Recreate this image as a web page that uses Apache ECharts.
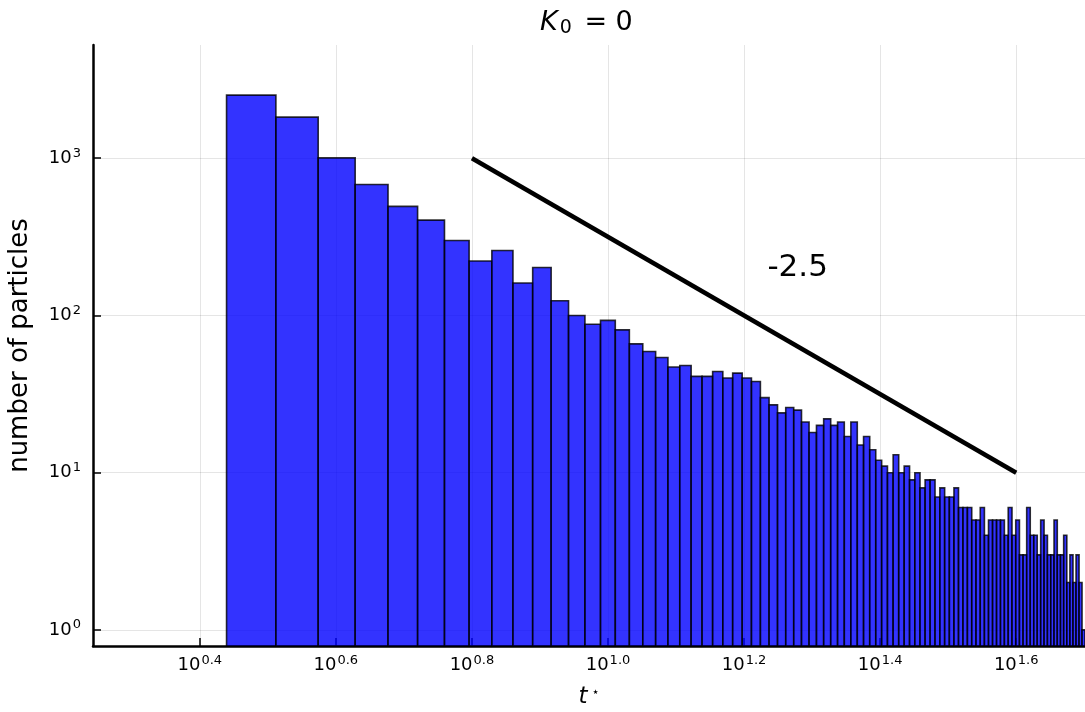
<!DOCTYPE html>
<html><head><meta charset="utf-8">
<script src="https://cdn.jsdelivr.net/npm/echarts@6/dist/echarts.min.js"></script>
<style>html,body{margin:0;padding:0;background:#fff}#c{width:1085px;height:712px}</style>
</head><body><div id="c"></div>
<script>
// ---- data ----
const binStart = 2.75;
const binWidth = 0.5;
const counts = [
  2520,1825,1005,680,494,404,300,222,259,161,
  202,124,100,88,93,81,66,59,54,47,
  48,41,41,44,40,43,40,38,30,27,
  24,26,25,21,18,20,22,20,21,17,
  21,15,17,14,12,11,10,13,10,11,
  9,10,8,9,9,7,8,7,7,8,
  6,6,6,5,5,6,4,5,5,5,
  5,4,6,4,5,3,3,6,4,4,
  3,5,4,3,3,5,3,3,4,2,
  3,2,3,2,1
];
const slopeX = [6.3096, 39.811];
const slopeY = [1000, 10];
const slopeText = '-2.5';
const slopeTextAt = [19, 200];
const titleParts = ['K', '0', ' = 0'];
const xName = ['t', '\u22c6'];
const yName = 'number of particles';

const xMin = 1.75, xMax = 50.25, yMin = 0.79, yMax = 5250;
const FONT = 'DejaVu Sans';

const bins = counts.map((c, i) => [binStart + i * binWidth, binStart + (i + 1) * binWidth, c]);

const chart = echarts.init(document.getElementById('c'), null, {renderer: 'canvas'});
const supRich = {
  b: {fontSize: 18, fontFamily: FONT, color: '#000'},
  s: {fontSize: 13, fontFamily: FONT, color: '#000', padding: [0, 0, 10, 1]}
};
chart.setOption({
  animation: false,
  backgroundColor: '#fff',
  title: {
    text: '{k|' + titleParts[0] + '}{s|' + titleParts[1] + '}{r|' + titleParts[2] + '}',
    left: 535, top: 2, textAlign: 'left',
    textStyle: {
      fontWeight: 'normal',
      rich: {
        k: {fontSize: 27, fontStyle: 'italic', fontWeight: 'normal', fontFamily: FONT, color: '#000'},
        s: {fontSize: 19, fontWeight: 'normal', fontFamily: FONT, color: '#000', padding: [12, 4, 0, 2]},
        r: {fontSize: 27, fontWeight: 'normal', fontFamily: FONT, color: '#000'}
      }
    }
  },
  grid: {left: 93, right: 0, top: 45, bottom: 66, containLabel: false, outerBoundsMode: 'none'},
  xAxis: {
    type: 'log', logBase: Math.pow(10, 0.2), min: xMin, max: xMax,
    name: '{t|' + xName[0] + '}{s|' + xName[1] + '}',
    nameLocation: 'middle', nameGap: 40,
    nameTextStyle: {rich: {
      t: {fontSize: 23, fontStyle: 'italic', fontFamily: FONT, color: '#000'},
      s: {fontSize: 13, fontFamily: FONT, color: '#000', padding: [0, 0, 10, 4]}
    }},
    axisLine: {onZero: false, lineStyle: {color: '#000', width: 2.5}},
    axisTick: {inside: true, length: 8, lineStyle: {color: '#000', width: 1.5}},
    axisLabel: {
      showMinLabel: false, showMaxLabel: false, margin: 8,
      formatter: v => '{b|10}{s|' + Math.log10(v).toFixed(1) + '}',
      rich: supRich
    },
    splitLine: {show: true, showMinLine: false, showMaxLine: false, lineStyle: {color: 'rgba(0,0,0,0.1)', width: 1}},
    minorTick: {show: false}, minorSplitLine: {show: false}
  },
  yAxis: {
    type: 'log', logBase: 10, min: yMin, max: yMax,
    name: yName, nameLocation: 'middle', nameGap: 60,
    nameTextStyle: {fontSize: 26, fontFamily: FONT, color: '#000'},
    axisLine: {onZero: false, lineStyle: {color: '#000', width: 2.5}},
    axisTick: {inside: true, length: 8, lineStyle: {color: '#000', width: 1.5}},
    axisLabel: {
      showMinLabel: false, showMaxLabel: false, margin: 12,
      formatter: v => '{b|10}{s|' + Math.round(Math.log10(v)) + '}',
      rich: supRich
    },
    splitLine: {show: true, showMinLine: false, showMaxLine: false, lineStyle: {color: 'rgba(0,0,0,0.1)', width: 1}},
    minorTick: {show: false}, minorSplitLine: {show: false}
  },
  series: [
    {
      type: 'custom',
      clip: true,
      data: bins,
      encode: {x: [0, 1], y: 2},
      renderItem: function (params, api) {
        const p0 = api.coord([api.value(0), api.value(2)]);
        const p1 = api.coord([api.value(1), yMin]);
        return {
          type: 'rect',
          shape: {x: p0[0], y: p0[1], width: p1[0] - p0[0], height: p1[1] - p0[1]},
          style: {fill: 'rgba(0,0,255,0.8)', stroke: 'rgba(0,0,0,0.8)', lineWidth: 1.6}
        };
      },
      z: 2
    },
    {
      type: 'line',
      data: slopeX.map((x, i) => [x, slopeY[i]]),
      symbol: 'none',
      lineStyle: {color: '#000', width: 4.5},
      z: 5
    },
    {
      type: 'scatter',
      data: [slopeTextAt],
      symbolSize: 0,
      itemStyle: {color: '#000', opacity: 1},
      label: {show: true, position: 'inside', formatter: slopeText, fontSize: 31, fontFamily: FONT,
              color: '#000', opacity: 1, textBorderWidth: 0},
      z: 6
    }
  ]
});
</script>
</body></html>
